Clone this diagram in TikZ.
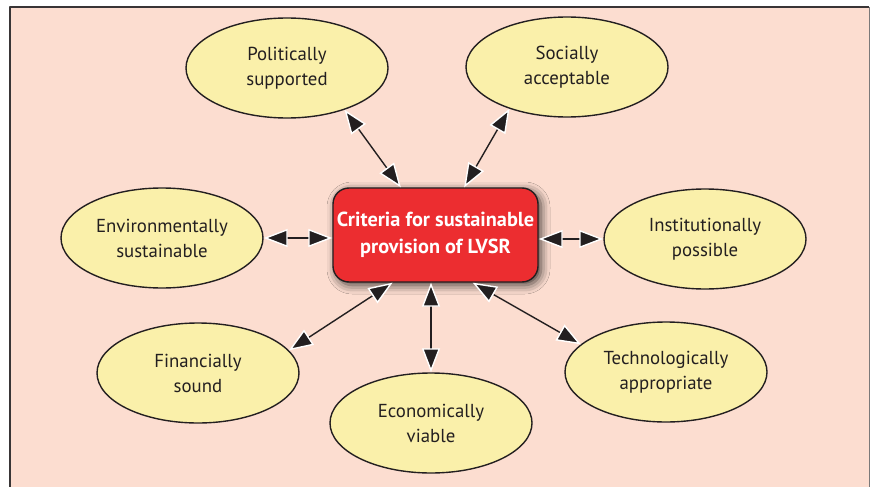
\documentclass[tikz,border=0pt]{standalone}
\usepackage{fontspec}
\setmainfont{PT Sans}
\usetikzlibrary{shapes.geometric,arrows.meta,shadows.blur}
\definecolor{peach}{HTML}{FCDDD0}
\definecolor{pale}{HTML}{FAF0AA}
\definecolor{crit}{HTML}{EC2D30}
\definecolor{ink}{HTML}{231F20}
\begin{document}
\begin{tikzpicture}[x=1pt,y=-1pt,line join=round,
  goal/.style={ellipse,draw=ink,line width=1.4pt,fill=pale,text=ink,minimum width=202pt,minimum height=100pt,inner sep=0pt,align=center,font=\fontsize{18.8}{25}\selectfont},
  link/.style={ink,line width=1.4pt,{Triangle[length=24pt,width=18pt,color=white,fill=ink,line width=1.4pt]}-{Triangle[length=24pt,width=18pt,color=white,fill=ink,line width=1.4pt]}}]
\useasboundingbox (0,0) rectangle (870,487);
\fill[peach] (10,7) rectangle (869,487);
\draw[ink!90,line width=2pt] (10,487)--(10,7)--(869,7);
\draw[ink!60,line width=1pt] (869,7)--(869,487);
% centre
\node[rounded corners=16pt,fill=crit,draw=ink,line width=1.4pt,text=white,minimum width=205pt,minimum height=94pt,align=center,inner sep=0pt,
  font=\bfseries\fontsize{20.3}{27}\selectfont,
  blur shadow={shadow xshift=3pt,shadow yshift=-3pt,shadow blur radius=9pt,shadow opacity=75}] (cent) at (435.5,235) {Criteria for sustainable\\provision of LVSR};
% criteria
\node[goal] (pol) at (287,68) {Politically\\supported};
\node[goal] (soc) at (567,67) {Socially\\acceptable};
\node[goal] (env) at (162,238) {Environmentally\\sustainable};
\node[goal] (inst) at (705,239) {Institutionally\\possible};
\node[goal] (fin) at (198,373) {Financially\\sound};
\node[goal] (econ) at (431,423) {Economically\\viable};
\node[goal] (tech) at (666,372) {Technologically\\appropriate};
% links
\draw[link] (cent.126) -- (pol.324);
\draw[link] (cent.59) -- (soc.216);
\draw[link] (env.east -| cent.west) -- (env.east);
\draw[link] (inst.west -| cent.east) -- (inst.west);
\draw[link] (cent.228) -- (fin.14);
\draw[link] (econ.north |- cent.south) -- (econ.north);
\draw[link] (cent.308) -- (tech.162);
\end{tikzpicture}
\end{document}
